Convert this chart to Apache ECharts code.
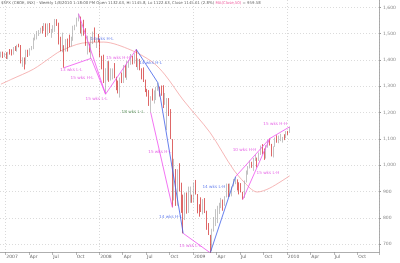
<!DOCTYPE html>
<html><head><meta charset="utf-8">
<script src="https://cdn.jsdelivr.net/npm/echarts@6/dist/echarts.min.js"></script>
<style>html,body{margin:0;padding:0;background:#fff}#c{width:400px;height:263px}</style>
</head><body><div id="c"></div>
<script>
// ---- DATA ----
const startDate = '2006-12-15';
const weekCount = 210;
const titleMain = '$SPX (CBOE, INX) - Weekly 1/8/2010 1:18:00 PM Open 1132.63, Hi 1145.8, Lo 1122.63, Close 1145.61 (2.8%) ';
const titleMA = 'MA(Close,50)';
const titleMAVal = ' = 959.58';
const lastClose = 1145.61;
const lastMA = 959.58;
const yTicks = [700, 800, 900, 1000, 1100, 1200, 1300, 1400, 1500, 1600];

const opens = [1409.8,1427.1,1410.8,
1418.0,1409.3,1430.7,1430.5,1422.0,1448.4,1438.1,1455.5,1451.2,1387.2,1402.8,1386.9,1436.1,1420.9,1443.8,1452.9,1484.4,1494.1,1505.6,1505.9,1522.8,1515.7,1536.3,1507.7,1532.9,1502.6,1503.4,1530.4,1552.5,1534.1,1458.9,1433.1,1453.6,1445.9,1479.4,1474.0,1453.6,1484.3,1525.8,1526.8,1557.6,1561.8,1500.6,1535.3,1509.7,1453.7,1458.7,1440.7,1481.1,1504.7,1468.0,1484.5,
1478.5,1411.6,1401.0,1325.2,1330.6,1395.4,1331.3,1350.0,1353.1,1330.6,1293.4,1288.1,1329.5,1315.2,1370.4,1332.8,1390.3,1397.8,1413.9,1388.3,1425.4,1375.9,1400.4,1360.7,1360.0,1317.9,1278.4,1262.9,1239.5,1260.7,1257.8,1260.3,1296.3,1298.2,1292.2,1282.8,1242.3,1251.7,1255.1,1213.3,1099.2,899.2,940.6,876.8,968.8,931.0,873.3,800.0,896.2,876.1,879.7,887.9,
872.8,931.8,890.4,850.1,832.0,825.9,868.6,826.8,770.1,735.1,683.4,756.6,768.5,815.9,842.5,856.6,869.6,866.2,877.5,929.2,882.9,887.0,919.1,940.1,946.2,921.2,918.9,896.4,879.1,940.4,979.3,987.5,1010.5,1004.1,1026.1,1028.9,1016.4,1042.7,1068.3,1044.4,1025.2,1071.5,1087.7,1079.6,1036.2,1069.3,1093.5,1091.4,1091.5,1106.0,1106.4,1102.5,1126.5,
1122.6];
const highs = [1431.6,1431.8,1427.7,
1429.4,1431.2,1441.6,1440.7,1449.3,1452.9,1457.7,1461.6,1456.9,1410.2,1409.6,1438.9,1438.9,1444.9,1453.1,1484.7,1498.0,1510.3,1513.8,1522.8,1529.3,1540.6,1539.1,1538.7,1540.5,1517.9,1532.4,1555.9,1555.1,1541.7,1488.3,1503.9,1456.2,1479.4,1481.5,1496.4,1488.4,1530.0,1533.7,1561.0,1576.1,1565.0,1535.3,1552.8,1520.8,1492.1,1462.9,1488.9,1508.0,1523.6,1484.5,1498.9,
1478.5,1416.0,1420.1,1368.6,1396.0,1395.4,1368.3,1367.9,1388.3,1336.0,1321.7,1333.3,1352.1,1380.9,1380.9,1395.9,1399.0,1422.7,1415.7,1425.5,1440.2,1406.3,1404.1,1368.4,1371.7,1325.3,1290.3,1285.4,1262.3,1291.2,1284.4,1297.9,1313.2,1298.2,1303.0,1304.0,1274.4,1255.1,1255.1,1213.3,1099.2,1024.4,985.4,984.4,1007.5,933.5,888.0,896.2,896.2,918.6,918.8,887.9,
934.7,943.9,890.4,851.6,877.9,870.8,875.0,826.8,780.1,735.1,758.3,803.0,832.9,845.6,856.9,875.6,869.6,882.1,930.2,929.6,930.2,919.1,947.8,956.2,946.2,935.0,931.9,898.7,941.9,979.8,996.7,1018.0,1013.1,1027.6,1039.5,1028.9,1048.2,1074.8,1080.2,1063.4,1076.2,1096.6,1101.4,1081.0,1071.5,1105.4,1113.7,1112.4,1119.1,1107.5,1117.7,1129.6,1130.4,
1145.8];
const lows = [1409.8,1407.6,1410.8,
1403.9,1403.0,1420.4,1416.9,1420.3,1434.2,1431.4,1448.2,1386.9,1374.1,1363.9,1383.0,1411.2,1416.4,1437.0,1441.2,1474.5,1478.2,1491.4,1500.7,1500.9,1510.3,1487.4,1492.7,1502.6,1484.2,1503.4,1506.9,1529.4,1458.9,1433.1,1429.4,1370.6,1432.1,1432.0,1449.1,1451.3,1472.8,1513.0,1526.8,1546.7,1500.6,1490.0,1492.5,1453.7,1420.9,1429.0,1406.1,1460.7,1467.9,1445.5,1467.9,
1411.2,1364.4,1312.3,1270.1,1322.4,1316.8,1321.7,1326.2,1330.6,1285.2,1272.7,1257.0,1312.2,1312.4,1332.8,1324.4,1370.2,1381.6,1383.1,1386.2,1373.1,1362.3,1360.7,1326.2,1316.1,1277.9,1260.7,1225.4,1200.4,1245.4,1234.4,1247.5,1282.9,1261.0,1263.9,1217.2,1229.5,1133.5,1186.8,1099.2,839.8,865.8,845.3,846.0,899.7,818.7,741.0,791.4,815.7,818.4,857.1,857.1,
857.3,888.3,817.0,804.3,822.0,812.9,818.0,754.3,734.5,666.8,672.9,747.9,768.5,779.8,814.5,836.9,826.8,845.7,877.5,878.9,879.6,881.5,919.1,927.9,903.8,888.9,896.4,869.3,875.3,934.3,964.0,987.5,990.0,978.5,1016.2,991.0,1016.4,1039.0,1041.2,1020.2,1025.2,1066.6,1074.7,1033.4,1029.4,1069.3,1085.4,1083.7,1091.5,1085.9,1095.4,1102.5,1114.8,
1122.6];
const closes = [1427.1,1410.8,1418.3,
1409.7,1430.7,1430.5,1422.2,1448.4,1438.1,1455.5,1451.2,1387.2,1402.8,1386.9,1436.1,1420.9,1443.8,1452.9,1484.4,1494.1,1505.6,1505.9,1522.8,1515.7,1536.3,1507.7,1532.9,1502.6,1503.4,1530.4,1552.5,1534.1,1458.9,1433.1,1453.6,1445.9,1479.4,1474.0,1453.6,1484.3,1525.8,1526.8,1557.6,1561.8,1500.6,1535.3,1509.7,1453.7,1458.7,1440.7,1481.1,1504.7,1468.0,1484.5,1478.5,
1411.6,1401.0,1325.2,1330.6,1395.4,1331.3,1350.0,1353.1,1330.6,1293.4,1288.1,1329.5,1315.2,1370.4,1332.8,1390.3,1397.8,1413.9,1388.3,1425.4,1375.9,1400.4,1360.7,1360.0,1317.9,1278.4,1262.9,1239.5,1260.7,1257.8,1260.3,1296.3,1298.2,1292.2,1282.8,1242.3,1251.7,1255.1,1213.3,1099.2,899.2,940.6,876.8,968.8,931.0,873.3,800.0,896.2,876.1,879.7,887.9,872.8,
931.8,890.4,850.1,832.0,825.9,868.6,826.8,770.1,735.1,683.4,756.6,768.5,815.9,842.5,856.6,869.6,866.2,877.5,929.2,882.9,887.0,919.1,940.1,946.2,921.2,918.9,896.4,879.1,940.4,979.3,987.5,1010.5,1004.1,1026.1,1028.9,1016.4,1042.7,1068.3,1044.4,1025.2,1071.5,1087.7,1079.6,1036.2,1069.3,1093.5,1091.4,1091.5,1106.0,1106.4,1102.5,1126.5,1115.1,
1145.6];

// moving average
const maPoints = [
 ['2006-12-15',1308],['2007-01-26',1327],['2007-04-20',1365],['2007-06-22',1407],['2007-08-03',1434],
 ['2007-10-26',1464],['2008-01-18',1468],['2008-05-02',1438],['2008-07-25',1392],['2008-09-12',1343],
 ['2008-11-21',1248],['2009-03-06',1123],['2009-06-05',982],['2009-08-07',913],['2009-09-04',898],
 ['2009-10-23',913],['2010-01-08',959.6]
];

// cycle annotation lines
const magentaLines = [
 [['2007-08-17',1370.6],['2007-11-30',1406.1]],
 [['2007-10-12',1576.1],['2008-01-25',1270.1]],
 [['2007-11-30',1406.1],['2008-01-25',1270.1]],
 [['2008-01-25',1270.1],['2008-05-23',1440.2]],
 [['2008-07-18',1200.4],['2008-10-10',839.8]],
 [['2008-11-21',741.0],['2009-03-06',666.8]],
 [['2009-06-12',956.2],['2009-10-23',1101.4],['2010-01-08',1145.8]],
 [['2009-07-10',869.3],['2009-10-23',1101.4]]
];
const blueLines = [
 [['2007-12-14',1523.6],['2008-03-20',1257.0]],
 [['2008-05-23',1440.2],['2008-08-15',1313.2]],
 [['2008-08-15',1313.2],['2008-11-21',741.0]],
 [['2009-03-06',666.8],['2009-06-12',956.2]]
];
const greenLines = [
 [['2008-03-20',1257.0],['2008-07-18',1200.4]]
];
const magentaLabels = [
 ['2007-09-14',1362,'13 wks L-L'],['2007-10-26',1331,'15 wks H-L'],['2008-03-14',1407,'15 wks H-H'],
 ['2007-12-21',1251,'15 wks L-L'],['2008-08-22',1050,'15 wks H-L'],['2008-12-19',693,'15 wks L-L'],
 ['2009-11-13',1156,'15 wks H-H'],['2009-07-17',1057,'10 wks H-H'],['2009-10-16',970,'15 wks L-H']
];
const blueLabels = [
 ['2008-01-11',1479,'14 wks H-L'],['2008-07-18',1388,'14 wks H-L'],['2008-10-03',803,'14 wks H-L'],['2009-03-20',917,'14 wks L-H']
];
const greenLabels = [['2008-05-09',1202,'18 wks L-L']];

// ---- BUILD ----
const cats = [];
{ const d0 = new Date(startDate + 'T00:00:00Z');
  for (let i = 0; i < weekCount; i++) { const d = new Date(d0.getTime() + i * 7 * 86400000); cats.push(d.toISOString().slice(0, 10)); } }
const mon = ['Jan','Feb','Mar','Apr','May','Jun','Jul','Aug','Sep','Oct','Nov','Dec'];
function isQuarterStart(i) {
  if (i === 0) return false;
  const m = +cats[i].slice(5, 7) - 1, pm = +cats[i - 1].slice(5, 7) - 1;
  return m !== pm && m % 3 === 0;
}
function isYearStart(i) { return i > 0 && cats[i].slice(0, 4) !== cats[i - 1].slice(0, 4); }
const candle = opens.map((o, i) => [o, closes[i], lows[i], highs[i]]);

const series = [];
series.push({ type: 'line', data: maPoints, smooth: 0.3, symbol: 'none', lineStyle: { color: '#f4a3a3', width: 0.8 }, z: 1, silent: true });
series.push({ type: 'candlestick', data: candle, barWidth: 1.3,
  itemStyle: { color: '#8fdc8f', color0: '#e00000', borderColor: '#9a9a9a', borderColor0: '#c80000', borderWidth: 0.6 },
  markLine: { symbol: 'none', silent: true, lineStyle: { opacity: 0 },
    data: [
      { yAxis: lastClose, label: { formatter: lastClose.toLocaleString('en-US', {minimumFractionDigits: 2}), backgroundColor: '#000', color: '#fff' } },
      { yAxis: lastMA, label: { formatter: lastMA.toFixed(2), backgroundColor: '#ee0000', color: '#ff9999' } }
    ],
    label: { position: 'end', fontSize: 4.5, fontFamily: 'DejaVu Sans', padding: [1, 1, 0, 1], distance: 1 } },
  z: 3 });
function addLines(lines, color) {
  lines.forEach(pts => series.push({ type: 'line', data: pts, symbol: 'none', lineStyle: { color, width: 0.8 }, z: 4, silent: true }));
}
addLines(magentaLines, '#f050f0');
addLines(blueLines, '#4060e8');
addLines(greenLines, '#3a9a3a');
function addLabels(lbls, color) {
  series.push({ type: 'scatter', data: lbls, symbolSize: 0, silent: true, z: 5,
    label: { show: true, position: 'inside', formatter: p => p.data[2], color, fontSize: 4.2, fontFamily: 'DejaVu Sans' } });
}
addLabels(magentaLabels, '#e040e0');
addLabels(blueLabels, '#4060e8');
addLabels(greenLabels, '#3a7a3a');

const chart = echarts.init(document.getElementById('c'), null, { renderer: 'canvas' });
chart.setOption({
  animation: false,
  backgroundColor: '#fff',
  title: { show: false },
  graphic: [{ type: 'text', left: 1, top: 1, style: { rich: { a: { fill: '#666', fontSize: 3.9, fontFamily: 'DejaVu Sans' }, b: { fill: '#f060a0', fontSize: 3.9, fontFamily: 'DejaVu Sans' } }, text: '{a|' + titleMain + '}{b|' + titleMA + '}{a|' + titleMAVal + '}' } }],
  grid: { left: 0, right: 21, top: 0, bottom: 11, show: false, containLabel: false },
  xAxis: { type: 'category', data: cats, boundaryGap: true,
    axisLine: { show: true, lineStyle: { color: '#999', width: 0.8 } },
    axisTick: { show: true, interval: (i) => isQuarterStart(i), length: 3, inside: false, lineStyle: { color: '#888', width: 0.6 } },
    axisLabel: { interval: (i) => isQuarterStart(i), fontSize: 4.5, color: '#666', margin: 2, align: 'left', fontFamily: 'DejaVu Sans',
      formatter: (v) => { const m = +v.slice(5, 7) - 1; return m === 0 ? v.slice(0, 4) : mon[m]; } },
    splitLine: { show: true, interval: (i) => isYearStart(i), lineStyle: { color: '#c8c8c8', type: [1, 2], width: 0.7 } } },
  yAxis: { type: 'value', position: 'right', min: 670, max: 1628, scale: true,
    axisLine: { show: true, lineStyle: { color: '#999', width: 0.8 } },
    axisTick: { show: true, customValues: yTicks, length: 2, lineStyle: { color: '#999' } },
    axisLabel: { customValues: yTicks, fontSize: 4.5, color: '#888', margin: 4, fontFamily: 'DejaVu Sans',
      formatter: v => v.toLocaleString('en-US') },
    splitLine: { show: true, lineStyle: { color: '#cccccc', type: [1, 2], width: 0.7 } } },
  series
});
</script></body></html>
